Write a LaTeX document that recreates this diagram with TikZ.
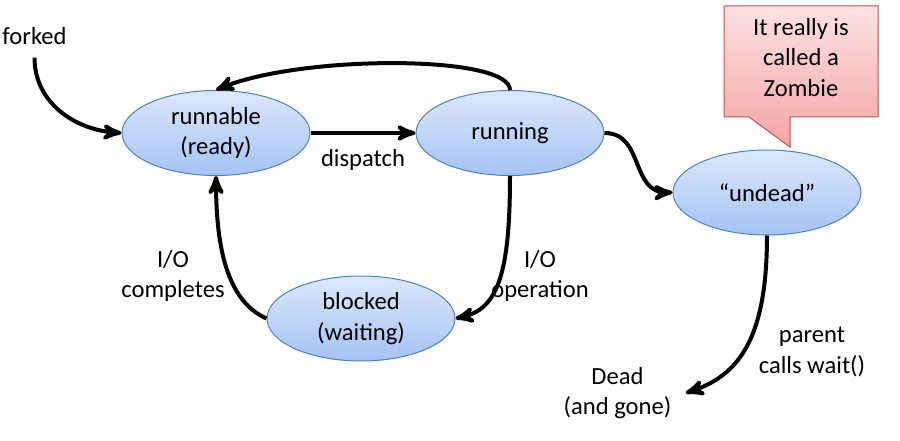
\documentclass[tikz,border=0pt]{standalone}
\usepackage{fontspec}
\setmainfont{Carlito}
\usepackage{tikz}
\usetikzlibrary{arrows,shapes.geometric,positioning}
\definecolor{stateTop}{HTML}{DDE8FB}
\definecolor{stateBot}{HTML}{A5C3F4}
\definecolor{stateLine}{HTML}{4F81BD}
\definecolor{noteTop}{HTML}{FDE2E2}
\definecolor{noteBot}{HTML}{F4A5A5}
\definecolor{noteLine}{HTML}{C0504D}
\tikzset{
    %Define standard arrow tip
    >=stealth',
    %Define style for process states
    proc/.style={
           ellipse,
           draw=stateLine, line width=0.5pt,
           top color=stateTop, bottom color=stateBot,
           minimum width=94pt,
           minimum height=42.5pt,
           inner sep=0pt,
           font=\fontsize{12.3}{15.3}\selectfont,
           align=center},
    %Define style for plain text
    lbl/.style={
           inner sep=1pt,
           font=\fontsize{12.3}{15.3}\selectfont,
           align=center},
    %Define style for the speech bubble
    note/.style={
           top color=noteTop, bottom color=noteBot,
           draw=noteLine, line width=0.5pt},
    % Define arrow style
    pil/.style={
           ->,
           line width=2pt}
}
\begin{document}
\begin{tikzpicture}[x=0.5pt,y=0.5pt]
\useasboundingbox (0,0) rectangle (900,440);
% states
\node[proc] (ready) at (216,307) {runnable\\(ready)};
\node[proc, right=52.5pt of ready] (run) {running};
\node[proc] (blocked) at (361,121.5) {blocked\\(waiting)};
\node[proc] (undead) at (767,247.5) {“undead”};
% zombie bubble
\shade[note] (724,434) -- (878,434) -- (878,323) -- (790,323) -- (790,293) -- (749,323) -- (724,323) -- cycle;
\node[lbl] (zombie) at (801,382.5) {It really is\\called a\\Zombie};
% texts
\node[lbl, anchor=base] (forked) at (34.5,395) {forked};
\node[lbl] (dead) at (617.5,47) {Dead\\(and gone)};
\node[lbl] (iodone) at (173,164) {I/O\\completes};
\node[lbl] (ioop) at (540,164) {I/O\\operation};
\node[lbl] (wait) at (812,88) {parent\\calls wait()};
% transitions
\draw[pil, shorten <=5pt] (forked.south) .. controls +(0,-55) and +(-47,3) .. (ready.west);
\draw[pil] (run.north) .. controls +(0,35.5) and +(84,35.5) .. (ready.north);
\draw[pil] (ready) -- (run) node[lbl, midway, below=6pt] (dispatch) {dispatch};
\draw[pil] (run.south) .. controls +(0,-104.5) and +(40,8.5) .. (blocked.east);
\draw[pil] (blocked.west) .. controls +(-42,18.5) and +(0,-64.5) .. (ready.south);
\draw[pil] (run.east) .. controls +(40,0) and +(-42.5,-0.5) .. (undead.west);
\draw[pil] (undead.south) .. controls +(0,-105) and +(52,17) .. ([xshift=6pt]dead.east);
\end{tikzpicture}
\end{document}
